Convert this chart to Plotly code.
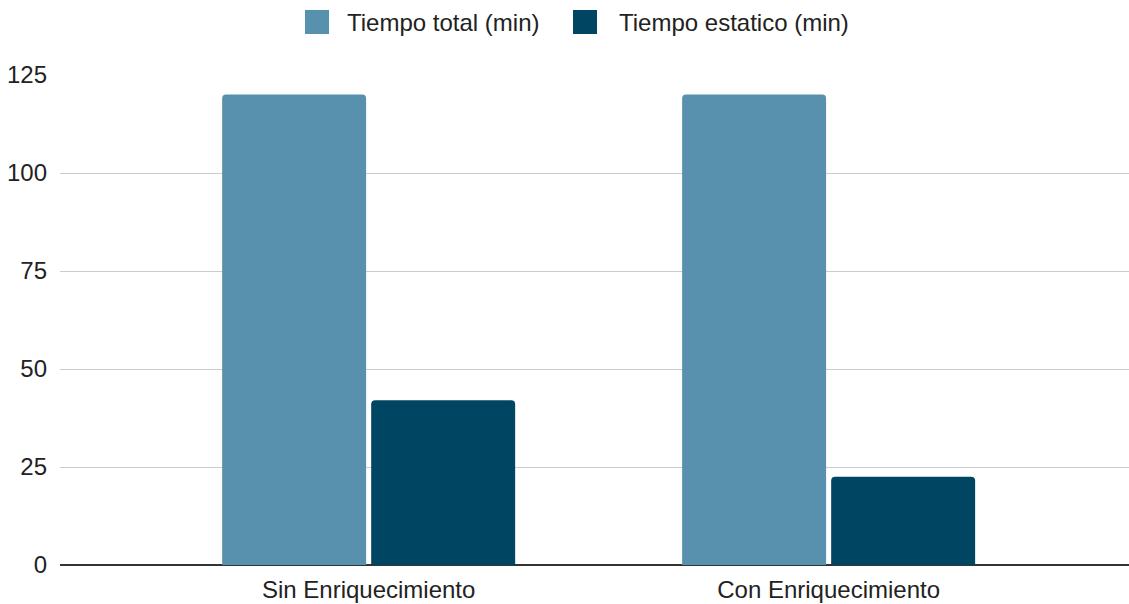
import plotly.graph_objects as go

categories = ["Sin Enriquecimiento", "Con Enriquecimiento"]
tiempo_total = [120, 120]
tiempo_estatico = [42, 22.5]
series_names = ["Tiempo total (min)", "Tiempo estatico (min)"]
colors = ["#5891AD", "#004561"]
y_ticks = [0, 25, 50, 75, 100, 125]

FONT = "Arial, 'Liberation Sans', sans-serif"
TEXT_COLOR = "#222222"

W, H = 1129, 604
M = dict(l=60, r=0, t=75, b=39)
plot_w = W - M["l"] - M["r"]
plot_h = H - M["t"] - M["b"]


def px_to_paper_x(px):
    return (px - M["l"]) / plot_w


def px_to_paper_y(py):
    return (H - M["b"] - py) / plot_h


fig = go.Figure()
for name, vals, col in zip(series_names, [tiempo_total, tiempo_estatico], colors):
    fig.add_trace(go.Bar(
        x=categories, y=vals, name=name,
        marker=dict(color=col, cornerradius=4, line=dict(width=0)),
    ))

# Legend row across the top: large rounded swatches followed by the series name
legend_items = [(305, 345), (573, 617)]  # swatch left edge, label left edge (px)
swatch = 24
legend_cy = 22
for (sx, tx), name, col in zip(legend_items, series_names, colors):
    fig.add_shape(
        type="rect", xref="paper", yref="paper",
        x0=px_to_paper_x(sx), x1=px_to_paper_x(sx + swatch),
        y0=px_to_paper_y(legend_cy + swatch / 2), y1=px_to_paper_y(legend_cy - swatch / 2),
        fillcolor=col, line=dict(width=0), layer="above",
    )
    fig.add_annotation(
        text=name, xref="paper", yref="paper",
        x=px_to_paper_x(tx), y=px_to_paper_y(legend_cy),
        xanchor="left", yanchor="middle", showarrow=False,
        font=dict(family=FONT, size=24, color=TEXT_COLOR),
    )

fig.update_layout(
    width=W, height=H,
    margin=M,
    paper_bgcolor="white", plot_bgcolor="white",
    barmode="group", bargap=0.352, bargroupgap=0.034,
    font=dict(family=FONT, size=24, color=TEXT_COLOR),
    showlegend=False,
)
fig.update_xaxes(
    type="category", range=[-0.671, 1.653],
    showgrid=False, showline=False, ticks="",
    ticklabelstandoff=8,
)
fig.update_yaxes(
    range=[0, 125], tickvals=y_ticks, showgrid=True, gridcolor="#cccccc", gridwidth=1,
    zeroline=True, zerolinecolor="#333333", zerolinewidth=2,
    showline=False, ticks="", ticklabelstandoff=12,
)

fig.write_html("out.html")
